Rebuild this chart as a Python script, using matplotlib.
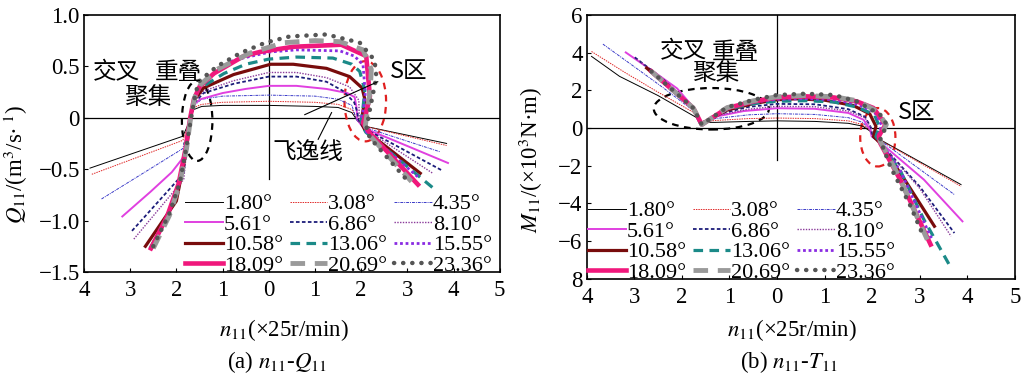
import numpy as np
import matplotlib
matplotlib.use("Agg")
import matplotlib.pyplot as plt
from matplotlib.patches import Ellipse

plt.rcParams['font.family'] = ['Liberation Serif', 'Noto Sans CJK SC']
plt.rcParams['mathtext.fontset'] = 'stix'
plt.rcParams['axes.unicode_minus'] = True

# guide vane openings (legend labels)
OPENINGS = ['1.80°', '3.08°', '4.35°', '5.61°', '6.86°', '8.10°',
            '10.58°', '13.06°', '15.55°', '18.09°', '20.69°', '23.36°']

# ---- (a) n11 - Q11 ----
Q_X_180 = [-3.87, -1.86, -1.76, -1.70, -1.62, -1.45, -1.0, 0.0, 1.0, 1.5, 1.8, 1.92, 2.05, 3.85]
Q_Y_180 = [-0.49, -0.18, -0.08, 0.0, 0.08, 0.11, 0.12, 0.12, 0.11, 0.10, 0.05, -0.03, -0.08, -0.25]
Q_X_308 = [-3.83, -1.86, -1.76, -1.70, -1.62, -1.45, -1.0, 0.0, 1.0, 1.5, 1.8, 1.92, 2.05, 3.85]
Q_Y_308 = [-0.55, -0.22, -0.10, 0.0, 0.10, 0.13, 0.15, 0.16, 0.15, 0.13, 0.08, -0.02, -0.08, -0.27]
Q_X_435 = [-3.62, -1.86, -1.76, -1.70, -1.62, -1.45, -1.0, 0.0, 1.0, 1.5, 1.8, 1.9, 2.05, 3.70]
Q_Y_435 = [-0.79, -0.30, -0.13, 0.0, 0.12, 0.18, 0.21, 0.22, 0.21, 0.18, 0.12, -0.02, -0.09, -0.33]
Q_X_561 = [-3.17, -2.56, -2.1, -1.84, -1.76, -1.70, -1.62, -1.48, -1.0, -0.5, 0.0, 0.6, 1.25, 1.7, 1.86, 1.90, 1.92, 2.05, 2.6, 3.88]
Q_Y_561 = [-0.96, -0.72, -0.53, -0.38, -0.18, 0.0, 0.13, 0.18, 0.24, 0.28, 0.31, 0.31, 0.28, 0.24, 0.20, 0.10, -0.02, -0.10, -0.20, -0.44]
Q_X_686 = [-2.96, -1.84, -1.76, -1.70, -1.62, -1.41, -0.76, 0.0, 0.6, 1.25, 1.61, 1.85, 1.92, 1.94, 2.05, 3.74]
Q_Y_686 = [-1.10, -0.54, -0.22, 0.0, 0.14, 0.24, 0.33, 0.40, 0.40, 0.35, 0.26, 0.15, 0.05, -0.02, -0.10, -0.51]
Q_X_810 = [-2.92, -1.84, -1.76, -1.70, -1.62, -1.41, -0.76, 0.0, 0.6, 1.25, 1.75, 1.95, 1.96, 2.05, 3.55]
Q_Y_810 = [-1.18, -0.60, -0.24, 0.0, 0.16, 0.26, 0.36, 0.44, 0.44, 0.39, 0.30, 0.17, 0.0, -0.10, -0.54]
Q_X_1058 = [-2.67, -2.0, -1.78, -1.70, -1.62, -1.41, -0.76, 0.04, 0.53, 1.25, 1.75, 2.02, 2.08, 2.03, 2.0, 2.08, 3.28]
Q_Y_1058 = [-1.25, -0.81, -0.31, 0.0, 0.17, 0.29, 0.42, 0.52, 0.52, 0.48, 0.40, 0.29, 0.18, 0.04, -0.04, -0.12, -0.54]
Q_X_1306 = [-2.57, -2.2, -1.95, -1.8, -1.70, -1.62, -1.5, -1.26, -0.97, -0.5, 0.0, 0.6, 1.39, 1.8, 1.97, 2.08, 2.03, 2.0, 2.1, 3.63]
Q_Y_1306 = [-1.27, -0.97, -0.65, -0.30, 0.0, 0.18, 0.28, 0.35, 0.43, 0.52, 0.57, 0.59, 0.58, 0.52, 0.45, 0.27, 0.05, -0.04, -0.14, -0.71]
Q_X_1555 = [-2.55, -2.2, -1.95, -1.8, -1.70, -1.62, -1.5, -1.26, -0.76, 0.04, 0.6, 1.54, 1.85, 2.04, 2.09, 2.05, 2.0, 2.12, 3.24]
Q_Y_1555 = [-1.28, -0.97, -0.65, -0.30, 0.0, 0.18, 0.30, 0.40, 0.56, 0.64, 0.66, 0.65, 0.60, 0.52, 0.24, 0.08, -0.01, -0.14, -0.58]
Q_X_1809 = [-2.55, -2.2, -1.95, -1.8, -1.70, -1.62, -1.5, -1.19, -0.54, -0.19, 0.53, 1.57, 2.11, 2.19, 2.11, 2.04, 2.19, 3.23]
Q_Y_1809 = [-1.27, -0.96, -0.64, -0.30, 0.0, 0.18, 0.30, 0.43, 0.60, 0.64, 0.69, 0.71, 0.60, 0.21, 0.05, -0.05, -0.15, -0.65]
Q_X_2069 = [-2.5, -2.15, -1.92, -1.78, -1.69, -1.6, -1.48, -1.12, -0.4, 0.33, 1.0, 1.54, 2.04, 2.22, 2.20, 2.15, 2.09, 2.2, 3.09]
Q_Y_2069 = [-1.27, -0.95, -0.63, -0.30, 0.0, 0.20, 0.32, 0.47, 0.63, 0.73, 0.75, 0.74, 0.66, 0.47, 0.28, 0.11, -0.08, -0.18, -0.62]
Q_X_2336 = [-2.5, -2.15, -1.92, -1.78, -1.68, -1.6, -1.52, -1.12, -0.61, -0.07, 0.45, 1.25, 1.97, 2.29, 2.33, 2.19, 2.11, 2.2, 2.98]
Q_Y_2336 = [-1.25, -0.93, -0.62, -0.28, 0.0, 0.20, 0.35, 0.50, 0.63, 0.73, 0.79, 0.81, 0.73, 0.56, 0.40, 0.08, -0.12, -0.20, -0.60]

# ---- (b) n11 - M11 ----
M_X_180 = [-3.90, -3.31, -2.5, -1.69, -1.62, -1.3, -0.6, 0.0, 0.8, 1.5, 1.8, 1.95, 2.05, 2.17, 3.87]
M_Y_180 = [3.80, 2.74, 1.72, 0.55, 0.30, 0.30, 0.35, 0.38, 0.35, 0.25, 0.10, -0.15, -0.45, -0.62, -3.00]
M_X_308 = [-3.90, -3.2, -2.5, -1.70, -1.62, -1.3, -0.6, 0.0, 0.8, 1.5, 1.8, 1.95, 2.05, 2.17, 3.87]
M_Y_308 = [4.06, 2.95, 1.9, 0.75, 0.32, 0.40, 0.50, 0.53, 0.50, 0.38, 0.18, -0.10, -0.45, -0.65, -3.09]
M_X_435 = [-3.66, -3.0, -2.4, -1.72, -1.62, -1.3, -0.6, 0.0, 0.8, 1.5, 1.8, 1.95, 2.03, 2.17, 3.73]
M_Y_435 = [4.45, 3.25, 2.15, 0.85, 0.30, 0.50, 0.70, 0.76, 0.72, 0.55, 0.30, -0.05, -0.40, -0.65, -3.53]
M_X_561 = [-3.18, -2.6, -2.1, -1.76, -1.6, -1.3, -0.7, 0.0, 0.8, 1.5, 1.82, 1.96, 1.99, 2.14, 3.09, 3.90]
M_Y_561 = [4.01, 3.0, 2.1, 1.1, 0.27, 0.60, 0.90, 1.05, 1.02, 0.80, 0.44, -0.09, -0.44, -0.70, -2.74, -4.95]
M_X_686 = [-2.99, -2.4, -1.76, -1.6, -1.2, -0.6, 0.0, 0.8, 1.5, 1.85, 1.98, 2.0, 2.15, 3.0, 3.73]
M_Y_686 = [3.75, 2.6, 1.1, 0.25, 0.75, 1.12, 1.28, 1.26, 1.0, 0.6, 0.0, -0.45, -0.75, -3.1, -5.57]
M_X_810 = [-2.95, -2.4, -1.76, -1.6, -1.2, -0.6, 0.0, 0.8, 1.5, 1.85, 1.98, 2.0, 2.15, 3.0, 3.66]
M_Y_810 = [3.65, 2.55, 1.1, 0.25, 0.7, 1.0, 1.15, 1.13, 0.9, 0.55, 0.0, -0.45, -0.75, -3.2, -5.74]
M_X_1058 = [-2.74, -1.76, -1.6, -1.05, -0.49, 0.0, 0.4, 1.0, 1.6, 1.95, 2.08, 2.03, 2.17, 2.7, 3.31]
M_Y_1058 = [3.18, 1.06, 0.22, 0.95, 1.3, 1.5, 1.55, 1.48, 1.2, 0.75, 0.1, -0.45, -0.8, -2.8, -5.21]
M_X_1306 = [-2.64, -1.76, -1.6, -1.05, -0.49, 0.0, 0.6, 1.2, 1.7, 2.05, 2.15, 2.08, 2.19, 2.6, 3.09, 3.62]
M_Y_1306 = [3.0, 1.06, 0.18, 1.0, 1.3, 1.42, 1.45, 1.38, 1.1, 0.7, 0.1, -0.45, -0.85, -2.3, -4.86, -7.24]
M_X_1555 = [-2.64, -1.76, -1.6, -1.05, -0.49, 0.0, 0.6, 1.2, 1.7, 2.05, 2.2, 2.12, 2.2, 2.6, 3.26]
M_Y_1555 = [3.0, 1.06, 0.18, 1.03, 1.38, 1.52, 1.56, 1.5, 1.25, 0.85, 0.15, -0.45, -0.85, -2.3, -5.92]
M_X_1809 = [-2.64, -1.76, -1.58, -1.05, -0.49, 0.0, 0.6, 1.2, 1.68, 2.03, 2.28, 2.14, 2.17, 2.59, 3.23]
M_Y_1809 = [3.0, 1.06, 0.18, 1.06, 1.41, 1.62, 1.68, 1.62, 1.41, 1.06, 0.18, -0.44, -0.80, -2.74, -6.18]
M_X_2069 = [-2.64, -1.76, -1.58, -1.05, -0.49, 0.0, 0.6, 1.2, 1.68, 2.1, 2.3, 2.16, 2.17, 2.55, 3.16]
M_Y_2069 = [3.0, 1.06, 0.18, 1.08, 1.45, 1.66, 1.72, 1.66, 1.45, 0.9, 0.18, -0.5, -0.70, -2.5, -5.92]
M_X_2336 = [-2.64, -1.76, -1.58, -1.05, -0.49, 0.0, 0.6, 1.2, 1.68, 2.17, 2.31, 2.17, 2.38, 2.81, 3.05]
M_Y_2336 = [3.0, 1.06, 0.18, 1.1, 1.5, 1.75, 1.82, 1.75, 1.41, 0.71, 0.18, -0.62, -2.03, -4.15, -5.57]

Q_CURVES = [(Q_X_180, Q_Y_180), (Q_X_308, Q_Y_308), (Q_X_435, Q_Y_435),
            (Q_X_561, Q_Y_561), (Q_X_686, Q_Y_686), (Q_X_810, Q_Y_810),
            (Q_X_1058, Q_Y_1058), (Q_X_1306, Q_Y_1306), (Q_X_1555, Q_Y_1555),
            (Q_X_1809, Q_Y_1809), (Q_X_2069, Q_Y_2069), (Q_X_2336, Q_Y_2336)]
M_CURVES = [(M_X_180, M_Y_180), (M_X_308, M_Y_308), (M_X_435, M_Y_435),
            (M_X_561, M_Y_561), (M_X_686, M_Y_686), (M_X_810, M_Y_810),
            (M_X_1058, M_Y_1058), (M_X_1306, M_Y_1306), (M_X_1555, M_Y_1555),
            (M_X_1809, M_Y_1809), (M_X_2069, M_Y_2069), (M_X_2336, M_Y_2336)]

X_TICKS = [-4, -3, -2, -1, 0, 1, 2, 3, 4, 5]
X_TICKLABELS = ['4', '3', '2', '1', '0', '1', '2', '3', '4', '5']
Q_TICKS = [1.0, 0.5, 0, -0.5, -1.0, -1.5]
Q_TICKLABELS = ['1.0', '0.5', '0', '\u22120.5', '\u22121.0', '\u22121.5']
M_TICKS = [6, 4, 2, 0, -2, -4, -6, -8]
M_TICKLABELS = ['6', '4', '2', '0', '\u22122', '\u22124', '\u22126', '8']

STYLES = [
    dict(color='black', lw=0.7, ls='-'),
    dict(color='#e02828', lw=0.7, ls=(0, (1.5, 1))),
    dict(color='#3a3ac8', lw=0.7, ls=(0, (3, 1, 1, 1))),
    dict(color='#e040e0', lw=1.4, ls='-'),
    dict(color='#1c1c7a', lw=1.3, ls=(0, (2, 1.3))),
    dict(color='#8a3a9a', lw=1.0, ls=(0, (1, 1))),
    dict(color='#780c0c', lw=2.3, ls='-'),
    dict(color='#1b8a88', lw=2.3, ls=(0, (3, 2))),
    dict(color='#8a2be2', lw=2.0, ls=(0, (1, 1))),
    dict(color='#f0187c', lw=3.3, ls='-'),
    dict(color='#9a9a9a', lw=3.5, ls=(0, (3, 2))),
    dict(color='#555555', lw=3.2, ls=(0, (0.05, 2.0)), dash_capstyle='round'),
]

FS = 16.5
LFS = 16
CFS = 17
CJK = ['Noto Sans CJK SC', 'Liberation Serif']

fig = plt.figure(figsize=(10.24, 3.82), dpi=100)
ax1 = fig.add_axes([0.082, 0.288, 0.406, 0.673])
ax2 = fig.add_axes([0.573, 0.270, 0.418, 0.691])


def draw(ax, curves):
    lines = []
    for (x, y), st, lab in zip(curves, STYLES, OPENINGS):
        ln, = ax.plot(x, y, label=lab, solid_joinstyle='round', **st)
        lines.append(ln)
    # legend is filled row by row in the figure
    order = [0, 3, 6, 9, 1, 4, 7, 10, 2, 5, 8, 11]
    return [lines[i] for i in order]


def style_axes(ax, yticks, yticklabels, ylim):
    ax.set_xlim(-4, 5)
    ax.set_ylim(*ylim)
    ax.set_xticks(X_TICKS)
    ax.set_xticklabels(X_TICKLABELS, fontsize=FS)
    ax.set_yticks(yticks)
    ax.set_yticklabels(yticklabels, fontsize=FS)
    ax.tick_params(direction='in', length=3, width=0.8, pad=3)
    ax.tick_params(axis='x', pad=6)
    for s in ax.spines.values():
        s.set_linewidth(1.2)
    ax.axhline(0, color='black', lw=0.9, zorder=0)


def add_legend(ax, handles, x0):
    ax.legend(handles=handles, ncol=3, loc='lower left',
              bbox_to_anchor=(x0, -0.02), frameon=False, fontsize=LFS,
              handlelength=1.7, handletextpad=0.05, columnspacing=0.3,
              labelspacing=0.0, borderpad=0.05, borderaxespad=0.0)


# (a)
h1 = draw(ax1, Q_CURVES)
style_axes(ax1, Q_TICKS, Q_TICKLABELS, (-1.5, 1.0))
ax1.plot([0, 0], [1.0, -0.6], color='black', lw=0.9, zorder=0)
ax1.add_patch(Ellipse((-1.55, -0.03), 0.66, 0.78, fill=False, color='black',
                      lw=1.6, ls=(0, (3, 2.5))))
ax1.add_patch(Ellipse((2.09, 0.16), 0.9, 0.78, fill=False, color='#e02020',
                      lw=1.6, ls=(0, (3, 2.5))))
ax1.plot([0.78, 2.36], [0.03, 0.35], color='black', lw=0.8)
ax1.plot([1.07, 1.36], [-0.21, 0.05], color='black', lw=0.8)
ax1.text(-3.81, 0.44, '交叉', fontsize=CFS, family=CJK, va='center')
ax1.text(-2.47, 0.44, '重叠', fontsize=CFS, family=CJK, va='center')
ax1.text(-3.12, 0.20, '聚集', fontsize=CFS, family=CJK, va='center')
ax1.text(2.62, 0.45, 'S区', fontsize=CFS, family=CJK, va='center')
ax1.text(0.09, -0.34, '飞逸线', fontsize=CFS, family=CJK, va='center')
ax1.set_ylabel('$Q_{11}$/(m$^3$/s·$^{\\ 1}$)', fontsize=FS)
ax1.yaxis.set_label_coords(-0.13, 0.42)
ax1.set_xlabel('$n_{11}$(×25r/min)', fontsize=FS)
ax1.xaxis.set_label_coords(0.48, -0.175)
add_legend(ax1, h1, 0.24)

# (b)
h2 = draw(ax2, M_CURVES)
style_axes(ax2, M_TICKS, M_TICKLABELS, (-8, 6))
ax2.plot([0, 0], [6, -1.68], color='black', lw=0.9, zorder=0)
ax2.add_patch(Ellipse((-1.38, 1.02), 2.42, 2.2, fill=False, color='black',
                      lw=1.6, ls=(0, (3, 2.5))))
ax2.add_patch(Ellipse((2.12, -0.49), 0.74, 3.1, fill=False, color='#e02020',
                      lw=1.6, ls=(0, (3, 2.5))))
ax2.text(-2.46, 4.03, '交叉', fontsize=CFS, family=CJK, va='center')
ax2.text(-1.37, 4.03, '重叠', fontsize=CFS, family=CJK, va='center')
ax2.text(-1.79, 2.88, '聚集', fontsize=CFS, family=CJK, va='center')
ax2.text(2.55, 0.80, 'S区', fontsize=CFS, family=CJK, va='center')
ax2.set_ylabel('$M_{11}$/(×10$^3$N·m)', fontsize=FS)
ax2.yaxis.set_label_coords(-0.098, 0.45)
ax2.set_xlabel('$n_{11}$(×25r/min)', fontsize=FS)
ax2.xaxis.set_label_coords(0.48, -0.145)
add_legend(ax2, h2, 0.0)

fig.text(277 / 1024, 1 - 362 / 382, '(a) $n_{11}$-$Q_{11}$', fontsize=FS,
         ha='center', va='center')
fig.text(789 / 1024, 1 - 362 / 382, '(b) $n_{11}$-$T_{11}$', fontsize=FS,
         ha='center', va='center')

fig.savefig('out.png', dpi=100, facecolor='white')
